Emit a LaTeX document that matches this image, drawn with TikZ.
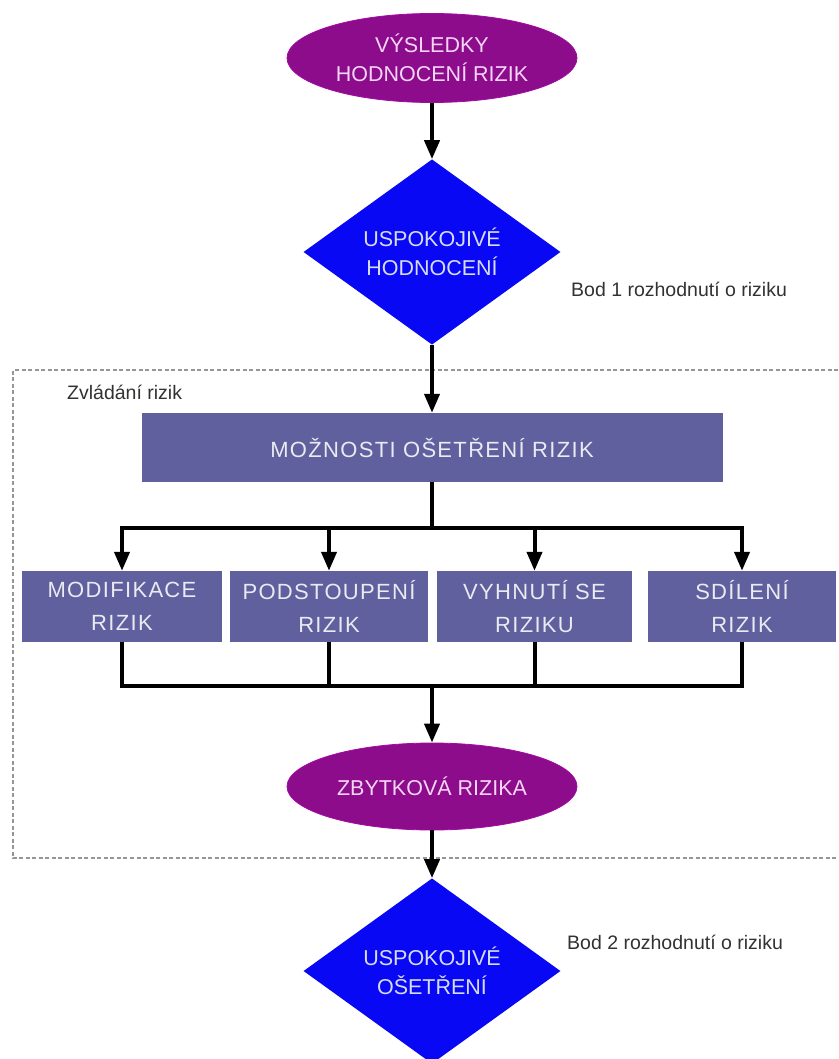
\documentclass[tikz,border=0pt]{standalone}
\usepackage{fontspec}
\setmainfont{Liberation Sans}
\newfontfamily\boxfont[LetterSpace=6]{Liberation Sans}
\usetikzlibrary{shapes.geometric,arrows.meta}
\definecolor{ovalfill}{RGB}{140,12,140}
\definecolor{ovaltext}{RGB}{246,214,246}
\definecolor{decfill}{RGB}{8,8,245}
\definecolor{dectext}{RGB}{214,220,244}
\definecolor{boxfill}{RGB}{96,96,158}
\definecolor{boxtext}{RGB}{234,234,242}
\definecolor{notetext}{RGB}{50,50,50}
\definecolor{dashgrey}{RGB}{150,150,150}
\tikzset{
  ovalnode/.style={ellipse, fill=ovalfill, draw=ovalfill!80!magenta, line width=0.8pt,
    minimum width=290pt, minimum height=89pt, inner sep=0pt, text=ovaltext,
    align=center, font=\fontsize{21.5}{29}\selectfont},
  decisionnode/.style={diamond, fill=decfill, minimum width=257pt, minimum height=180pt,
    inner sep=0pt, text=dectext, align=center, font=\fontsize{21.5}{29}\selectfont},
  boxnode/.style={rectangle, fill=boxfill, inner sep=0pt, text=boxtext,
    align=center, font=\boxfont\fontsize{22}{33}\selectfont},
  note/.style={text=notetext, font=\fontsize{19.5}{23}\selectfont, inner sep=0pt},
  flowline/.style={line width=4pt, black},
  flowarrow/.style={line width=4pt, black, -{Triangle[width=15pt,length=19pt]}},
  groupframe/.style={dashgrey, line width=1.3pt, dash pattern=on 4pt off 2.5pt}
}
\begin{document}
\begin{tikzpicture}[x=1pt,y=-1pt]
\useasboundingbox[fill=white] (0,0) rectangle (838,1059);
% group frame
\draw[groupframe] (838,370) -- (13,370) -- (13,858) -- (838,858);
\node[note, anchor=west] (group) at (67,392) {Zvládání rizik};

\node[ovalnode] (res) at (432,58) {VÝSLEDKY\\HODNOCENÍ RIZIK};
\node[decisionnode] (dec1) at (432,252) {USPOKOJIVÉ\\HODNOCENÍ};
\node[note, anchor=west] (bod1) at (571,289) {Bod 1 rozhodnutí o riziku};

\node[boxnode, minimum width=581pt, minimum height=69pt] (opt) at (432,447.5) {MOŽNOSTI OŠETŘENÍ RIZIK};

\node[boxnode, minimum width=200pt, minimum height=71pt] (m1) at (122,606.5) {MODIFIKACE\\RIZIK};
\node[boxnode, minimum width=198pt, minimum height=71pt] (m2) at (329,606.5) {PODSTOUPENÍ\\RIZIK};
\node[boxnode, minimum width=195pt, minimum height=71pt] (m3) at (534.5,606.5) {VYHNUTÍ SE\\RIZIKU};
\node[boxnode, minimum width=188pt, minimum height=71pt] (m4) at (742,606.5) {SDÍLENÍ\\RIZIK};

\node[ovalnode, minimum height=87pt] (rest) at (432,786.5) {ZBYTKOVÁ RIZIKA};
\node[decisionnode, minimum height=176pt] (dec2) at (432,971) {USPOKOJIVÉ\\OŠETŘENÍ};
\node[note, anchor=west] (bod2) at (567,942) {Bod 2 rozhodnutí o riziku};

% connectors
\draw[flowarrow] (res.south) -- (dec1.north);
\draw[flowarrow] (dec1.south) -- (opt.north);

\coordinate (split) at (432,528);
\coordinate (join) at (432,686);
\draw[flowline] (opt.south) -- (split);
\draw[flowline, line cap=rect] (split -| m1) -- (split -| m4);
\draw[flowarrow] (split -| m1) -- (m1.north);
\draw[flowarrow] (split -| m2) -- (m2.north);
\draw[flowarrow] (split -| m3) -- (m3.north);
\draw[flowarrow] (split -| m4) -- (m4.north);

\draw[flowline] (m1.south) -- (join -| m1);
\draw[flowline] (m2.south) -- (join -| m2);
\draw[flowline] (m3.south) -- (join -| m3);
\draw[flowline] (m4.south) -- (join -| m4);
\draw[flowline, line cap=rect] (join -| m1) -- (join -| m4);
\draw[flowarrow] (join) -- (rest.north);
\draw[flowarrow] (rest.south) -- (dec2.north);
\end{tikzpicture}
\end{document}
